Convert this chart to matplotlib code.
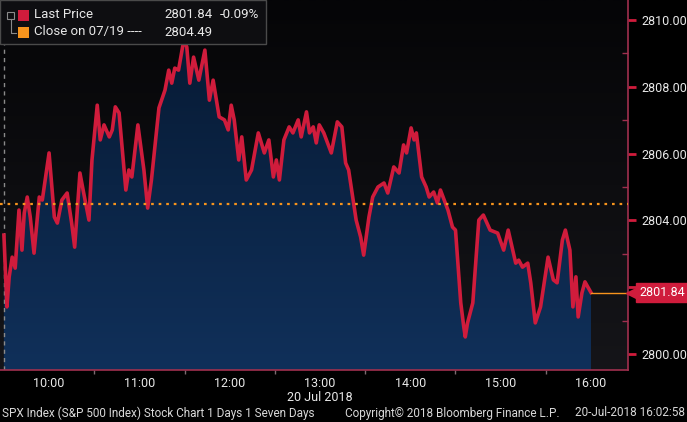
import numpy as np
import matplotlib
matplotlib.use("Agg")
import matplotlib.pyplot as plt
from matplotlib.patches import Rectangle
from matplotlib.lines import Line2D
import matplotlib.transforms as mtransforms

plt.rcParams['font.family'] = ['Roboto', 'DejaVu Sans']

# minutes after 09:30 open, and SPX last price
minutes = [0, 2, 3.5, 5.5, 7.5, 10, 12, 13.5, 15.5, 17.5, 20, 23.5, 25.5, 30, 33.5, 35.5,
           38.5, 42, 45, 47, 50.5, 53, 56.5, 58.5, 62, 64, 66.5, 70, 72, 74, 76.5, 78.5,
           81, 83, 85, 89, 93, 95.5, 98, 103, 107, 109.5, 111.5, 113.5, 116, 119.5, 121.5,
           123.5, 126, 129.5, 133.5, 136.5, 139, 143, 146.5, 149, 151, 153, 156, 158, 161,
           164.5, 169, 173, 176, 179, 181, 183, 186, 189.5, 192, 195.5, 197.5, 201, 203,
           205.5, 207.5, 209.5, 212.5, 217.5, 221.5, 224.5, 227, 229, 234, 237, 239, 242.5,
           245, 248.5, 252.5, 255, 259, 262.5, 265.5, 267.5, 270.5, 272.5, 274, 277.5,
           280.5, 282.5, 285.5, 288, 290, 295, 298, 300, 303.5, 305.5, 306.5, 308, 311.5,
           315.5, 318.5, 323, 328, 332, 335, 340, 342, 344.5, 348, 350, 353, 356.5, 359.5,
           361.5, 365, 367.5, 371, 373, 376, 378, 380, 381.5, 384, 386, 390]
prices = [2803.56, 2801.41, 2802.31, 2802.90, 2802.57, 2804.31, 2803.11, 2804.22, 2804.70,
          2804.10, 2803.02, 2804.70, 2804.61, 2806.02, 2804.10, 2803.92, 2804.61, 2804.82,
          2803.92, 2803.20, 2805.42, 2804.82, 2804.01, 2805.81, 2807.45, 2806.41, 2806.86,
          2806.50, 2806.71, 2807.40, 2807.22, 2806.20, 2804.91, 2805.51, 2805.30, 2806.86,
          2805.51, 2804.37, 2805.21, 2807.37, 2807.90, 2808.50, 2808.11, 2808.56, 2808.50,
          2809.40, 2809.19, 2808.11, 2808.89, 2808.20, 2809.10, 2807.60, 2808.20, 2807.10,
          2807.01, 2806.71, 2807.45, 2807.01, 2805.81, 2806.50, 2805.21, 2805.51, 2806.62,
          2806.02, 2806.41, 2805.30, 2805.81, 2805.21, 2806.41, 2806.80, 2806.62, 2807.01,
          2806.50, 2807.25, 2806.62, 2806.80, 2806.32, 2806.86, 2806.62, 2806.02, 2806.95,
          2806.80, 2805.72, 2805.51, 2804.01, 2803.50, 2802.96, 2804.10, 2804.70, 2805.00,
          2805.12, 2804.82, 2805.60, 2805.42, 2806.26, 2806.02, 2806.77, 2806.41, 2806.62,
          2805.30, 2805.00, 2804.70, 2804.85, 2804.52, 2804.91, 2804.31, 2803.80, 2803.71,
          2801.53, 2800.81, 2800.51, 2800.93, 2801.53, 2804.01, 2804.16, 2803.71, 2803.62,
          2803.11, 2803.71, 2802.72, 2802.81, 2802.60, 2802.72, 2802.13, 2800.93, 2801.41,
          2802.31, 2802.90, 2802.22, 2802.13, 2803.41, 2803.71, 2803.11, 2801.41, 2802.31,
          2801.11, 2801.83, 2802.16, 2801.84]

prev_close = 2804.49
last_price = 2801.84
pct_change = "-0.09%"

hour_ticks = [30, 90, 150, 210, 270, 330, 390]
hour_labels = ["10:00", "11:00", "12:00", "13:00", "14:00", "15:00", "16:00"]
half_ticks = [60, 120, 180, 240, 300, 360]
price_ticks = [2800, 2802, 2804, 2806, 2808, 2810]
minor_price_ticks = [2801, 2803, 2805, 2807, 2809]

RED = "#d01c3c"
ORANGE = "#f7941d"
TXT = "#e8e8e8"
SPINE = "#a0304f"

W, H = 687, 422
fig = plt.figure(figsize=(W / 100, H / 100), dpi=100, facecolor="black")
ax = fig.add_axes([0, 52 / H, 628 / W, 370 / H])
x0, x1 = -2.6, 414.6
y0, y1 = 2799.52, 2810.60
ax.set_xlim(x0, x1)
ax.set_ylim(y0, y1)

# background gradient
grad = np.linspace(0, 1, 256).reshape(-1, 1)
bg_cmap = matplotlib.colors.LinearSegmentedColormap.from_list("bg", ["#151519", "#050507"])
ax.imshow(grad, extent=[x0, x1, y1, y0], aspect="auto", cmap=bg_cmap, zorder=0)

# filled area with gradient
poly = ax.fill_between(minutes, prices, y0, color="none", zorder=1)
fill_cmap = matplotlib.colors.LinearSegmentedColormap.from_list("fill", ["#10305a", "#061830"])
im = ax.imshow(grad, extent=[x0, x1, y1, y0], aspect="auto", cmap=fill_cmap, zorder=1)
im.set_clip_path(poly.get_paths()[0], transform=ax.transData)

ax.plot(minutes, prices, color=RED, lw=2.6, zorder=3, solid_joinstyle="round")

# previous close dotted line, last price line, session start marker
ax.axhline(prev_close, color=ORANGE, ls=(0, (1.2, 2.2)), lw=1.6, zorder=4)
ax.plot([minutes[-1], x1], [last_price, last_price], color=ORANGE, lw=1, zorder=4)
ax.axvline(0, color="#8a8a8a", ls=(0, (3, 3)), lw=1, zorder=2)

ax.set_facecolor("black")
for s in ["top", "left"]:
    ax.spines[s].set_visible(False)
for s in ["right", "bottom"]:
    ax.spines[s].set_color(SPINE)
    ax.spines[s].set_linewidth(1.2)

ax.yaxis.tick_right()
ax.set_yticks(price_ticks)
ax.set_yticklabels([f"{v:.2f}" for v in price_ticks])
ax.set_yticks(minor_price_ticks, minor=True)
ax.tick_params(axis="y", which="major", colors=TXT, labelsize=9, length=6, width=2,
               color=RED, pad=4)
ax.tick_params(axis="y", which="minor", length=4, width=1, color=SPINE, direction="in")

ax.set_xticks(hour_ticks)
ax.set_xticklabels(hour_labels)
ax.set_xticks(half_ticks, minor=True)
ax.tick_params(axis="x", which="major", colors=TXT, labelsize=9, length=0, pad=5)
ax.tick_params(axis="x", which="minor", length=3, width=1, color="#7a6a70", direction="out")

ax.text(210, -0.075, "20 Jul 2018",
        transform=mtransforms.blended_transform_factory(ax.transData, ax.transAxes),
        color=TXT, fontsize=9, ha="center", va="center")

# last price tag on the right axis
tag_tr = mtransforms.blended_transform_factory(ax.transAxes, ax.transData)
ax.plot([1.004], [last_price], marker="<", ms=7, color=RED, transform=tag_tr,
        clip_on=False, zorder=6)
ax.text(1.018, last_price, f"{last_price:.2f}", transform=tag_tr, color="white", fontsize=9,
        ha="left", va="center", zorder=7,
        bbox=dict(boxstyle="square,pad=0.25", fc=RED, ec=RED))


def fx(px):
    return px / W


def fy(py):
    return 1 - py / H


# legend box
fig.patches.append(Rectangle((fx(0), fy(44)), fx(266), 44 / H, transform=fig.transFigure,
                             fc="#0e0e11", ec="#4a4a4a", lw=1, zorder=10))
fig.patches.append(Rectangle((fx(7), fy(19)), fx(7), 7 / H, transform=fig.transFigure,
                             fc="none", ec="#8a8a8a", lw=0.8, zorder=11))
fig.lines.append(Line2D([fx(10.5), fx(10.5), fx(16)], [fy(19), fy(33), fy(33)],
                        transform=fig.transFigure, color="#8a8a8a", lw=0.8, zorder=11))
fig.patches.append(Rectangle((fx(18), fy(21)), fx(11), 11 / H, transform=fig.transFigure,
                             fc=RED, ec="none", zorder=11))
fig.patches.append(Rectangle((fx(18), fy(38)), fx(11), 11 / H, transform=fig.transFigure,
                             fc=ORANGE, ec="none", zorder=11))
fig.text(fx(34), fy(15), "Last Price", color=TXT, fontsize=9.5, va="center", zorder=12)
fig.text(fx(164), fy(15), f"{last_price:.2f}", color=TXT, fontsize=9.5, va="center", zorder=12)
fig.text(fx(259), fy(15), pct_change, color=TXT, fontsize=9.5, va="center", ha="right", zorder=12)
fig.text(fx(34), fy(32), "Close on 07/19 ----", color=TXT, fontsize=9.5, va="center", zorder=12)
fig.text(fx(164), fy(32), f"{prev_close:.2f}", color=TXT, fontsize=9.5, va="center", zorder=12)

# footer
fig.text(fx(2), fy(413), "SPX Index (S&P 500 Index) Stock Chart 1 Days 1 Seven Days",
         color="#d8d8d8", fontsize=8.5, va="center")
fig.text(fx(345), fy(413), "Copyright\u00a9 2018 Bloomberg Finance L.P.",
         color="#d8d8d8", fontsize=8.5, va="center")
fig.text(fx(685), fy(413), "20-Jul-2018 16:02:58", color="#d8d8d8", fontsize=8.5,
         va="center", ha="right")

fig.savefig("out.png", dpi=100, facecolor="black")
